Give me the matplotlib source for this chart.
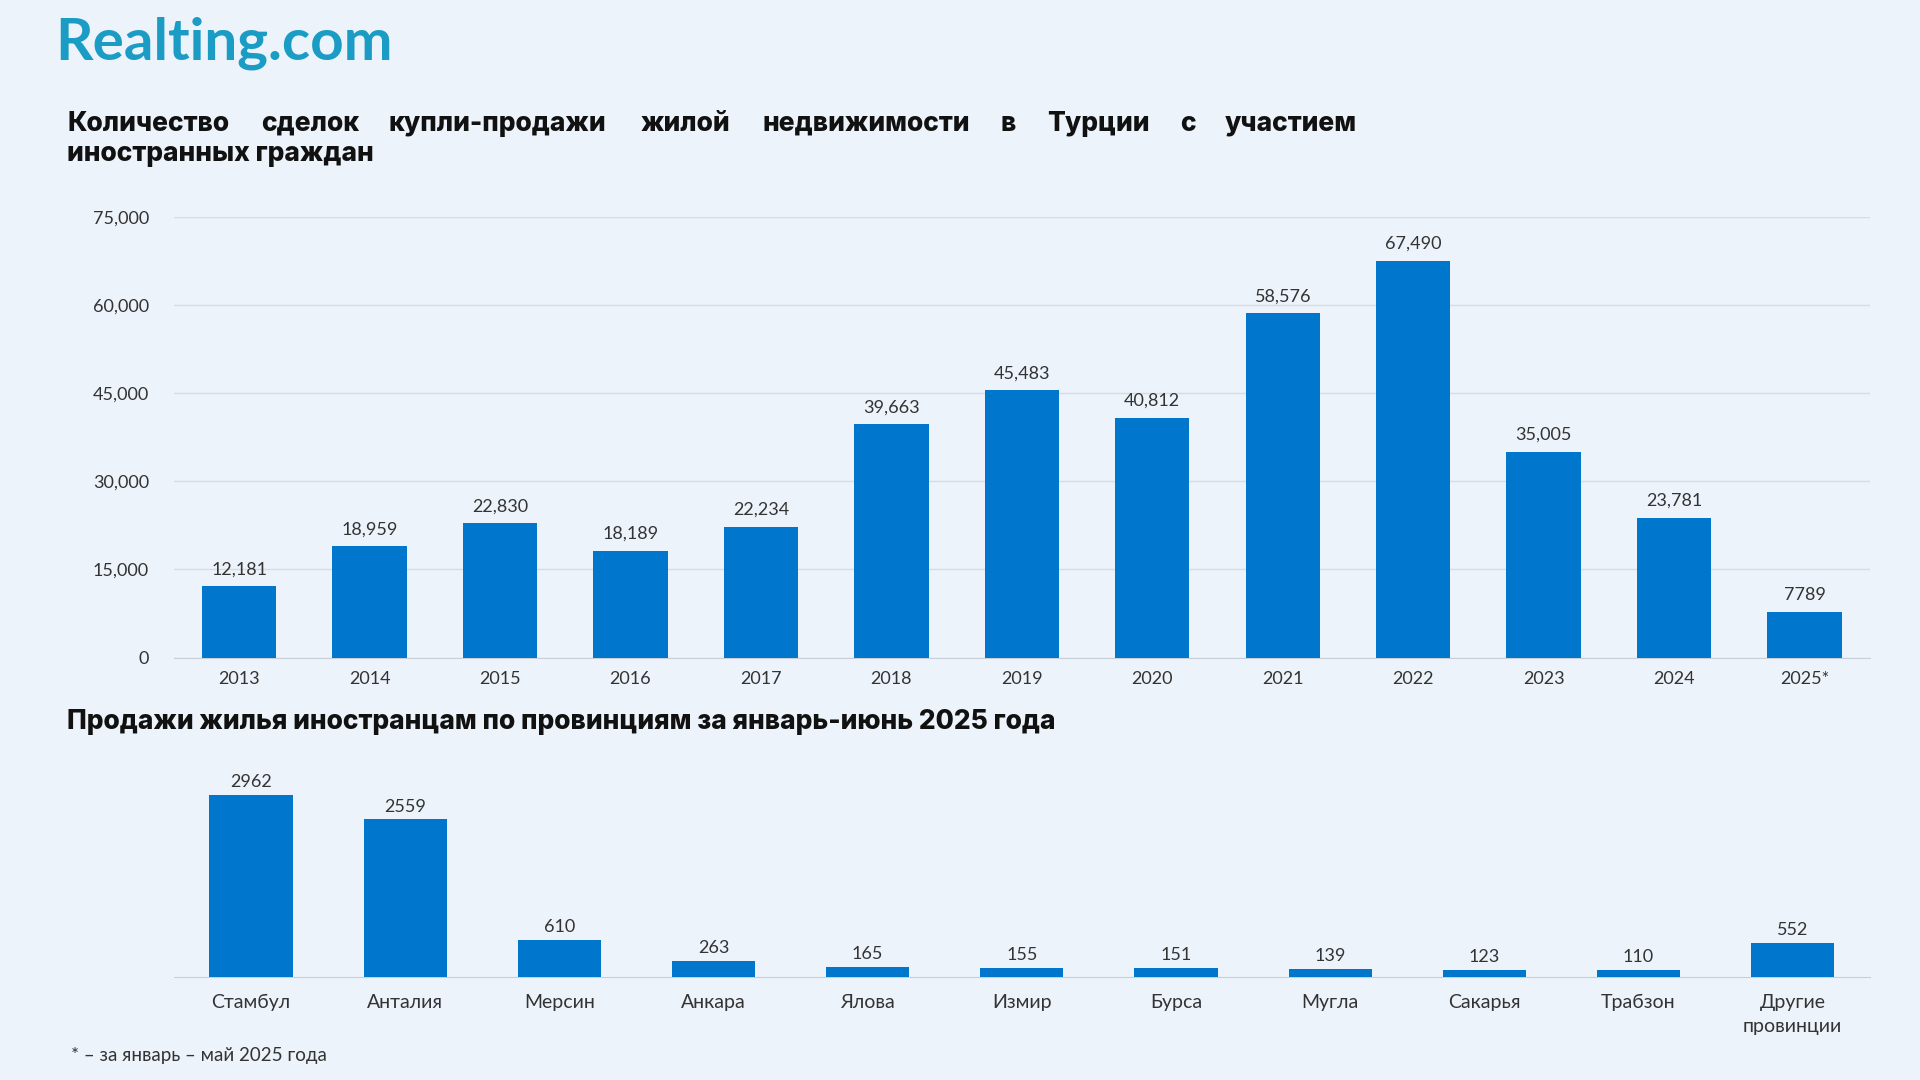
import matplotlib
matplotlib.use("Agg")
import matplotlib.pyplot as plt

years = ["2013","2014","2015","2016","2017","2018","2019","2020","2021","2022","2023","2024","2025*"]
deals = [12181,18959,22830,18189,22234,39663,45483,40812,58576,67490,35005,23781,7789]
deal_labels = ["12,181","18,959","22,830","18,189","22,234","39,663","45,483","40,812","58,576","67,490","35,005","23,781","7789"]
yticks = [0,15000,30000,45000,60000,75000]
ytick_labels = ["0","15,000","30,000","45,000","60,000","75,000"]

provinces = ["Стамбул","Анталия","Мерсин","Анкара","Ялова","Измир","Бурса","Мугла","Сакарья","Трабзон","Другие\nпровинции"]
prov_sales = [2962,2559,610,263,165,155,151,139,123,110,552]

BG = "#EDF3FB"
BAR = "#0077CC"
W, H = 1568, 882
plt.rcParams["font.family"] = "Lato"
TF = "Inter"

fig = plt.figure(figsize=(19.2, 10.8), dpi=100, facecolor=BG)

def fx(x): return x / W
def fy(y): return 1 - y / H

fig.text(fx(45), fy(35), "Realting.com", fontsize=42, fontweight="bold", family="Lato", color="#1A9CC4", va="center", ha="left")

words = ["Количество","сделок","купли-продажи","жилой","недвижимости","в","Турции","с","участием"]
xs = [55,213,317,523,623,817,855,964,1000]
for w, x in zip(words, xs):
    fig.text(fx(x), fy(101), w, fontsize=19, fontweight="heavy", family=TF, va="center", ha="left", color="#111")
fig.text(fx(55), fy(126), "иностранных граждан", fontsize=19, fontweight="heavy", family=TF, va="center", ha="left", color="#111")

ax = fig.add_axes([fx(142), fy(537), fx(1527-142), (537-177)/H])
ax.set_facecolor(BG)
x = range(len(years))
ax.bar(x, deals, width=0.57, color=BAR, zorder=3)
for i, (v, l) in enumerate(zip(deals, deal_labels)):
    ax.text(i, v + 1500, l, ha="center", va="bottom", fontsize=13, color="#333")
ax.set_xlim(-0.5, len(years) - 0.5)
ax.set_ylim(0, 75000)
ax.set_yticks(yticks)
ax.set_yticklabels(ytick_labels)
ax.set_xticks(list(x))
ax.set_xticklabels(years)
ax.grid(axis="y", color="#D5DCE4", linewidth=1, zorder=0)
for s in ["top","right","left"]:
    ax.spines[s].set_visible(False)
ax.spines["bottom"].set_color("#C8CFD8")
ax.tick_params(axis="both", length=0, labelsize=13, colors="#333")
ax.tick_params(axis="y", pad=18)
ax.tick_params(axis="x", pad=10)

fig.text(fx(55), fy(590), "Продажи жилья иностранцам по провинциям за январь-июнь 2025 года",
         fontsize=19, fontweight="heavy", family=TF, va="center", ha="left", color="#111")

ax2 = fig.add_axes([fx(142), fy(798), fx(1527-142), (798-620)/H])
ax2.set_facecolor(BG)
x2 = range(len(provinces))
ax2.bar(x2, prov_sales, width=0.54, color=BAR, zorder=3)
for i, v in enumerate(prov_sales):
    ax2.text(i, v + 80, str(v), ha="center", va="bottom", fontsize=13, color="#333")
ax2.set_xlim(-0.5, len(provinces) - 0.5)
ax2.set_ylim(0, 3538)
ax2.set_yticks([])
ax2.set_xticks(list(x2))
ax2.set_xticklabels(provinces, linespacing=1.5)
for s in ["top","right","left"]:
    ax2.spines[s].set_visible(False)
ax2.spines["bottom"].set_color("#C8CFD8")
ax2.tick_params(axis="x", length=0, labelsize=14, colors="#333", pad=12)

fig.text(fx(58), fy(862), "* – за январь – май 2025 года", fontsize=13.5, va="center", ha="left", color="#333")

fig.savefig("out.png", dpi=100, facecolor=BG)
